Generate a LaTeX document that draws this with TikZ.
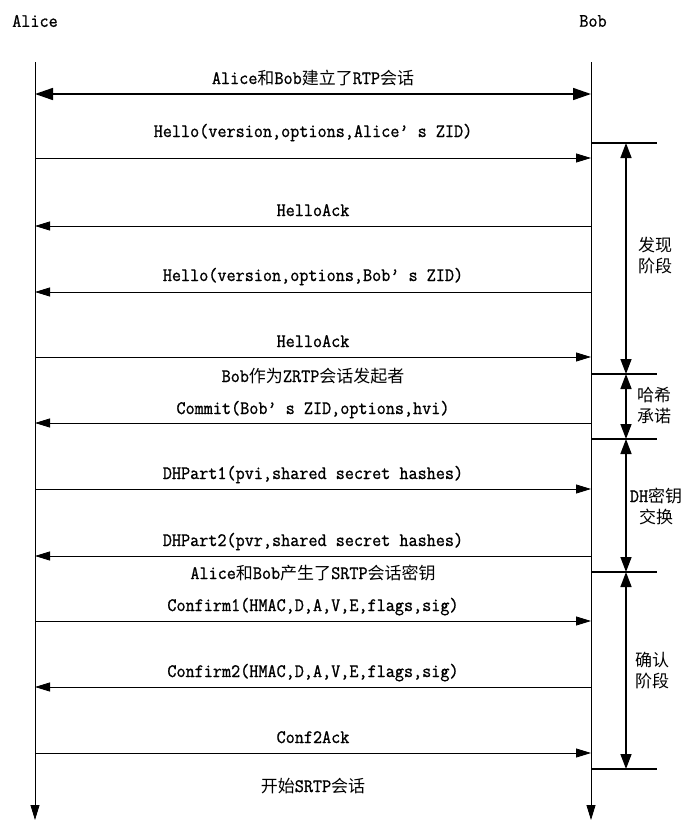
\documentclass[tikz,border=0pt]{standalone}
\usepackage{fontspec}
\setmonofont[FakeStretch=0.93,FakeBold=1]{Latin Modern Mono}
\newfontfamily\cjk{Noto Sans CJK SC}
\usetikzlibrary{arrows.meta}
\newcommand{\lat}{\ttfamily\fontsize{19}{21}\selectfont}
\newcommand{\zh}[1]{{\cjk\fontsize{17}{21}\selectfont #1}}

\begin{document}
\begin{tikzpicture}[
    x=1pt, y=-1pt,
    every node/.style={font=\lat, inner sep=0pt},
    msg/.style={line width=0.8pt, -{Triangle[length=15pt,width=9pt]}},
    both/.style={line width=1.6pt, {Triangle[length=18pt,width=12pt]}-{Triangle[length=18pt,width=12pt]}},
    phase/.style={line width=1.5pt, {Triangle[length=15pt,width=11pt]}-{Triangle[length=15pt,width=11pt]}},
    phaseline/.style={line width=1.5pt},
    side/.style={font=\cjk\fontsize{17}{21}\selectfont, align=center}
  ]
  \useasboundingbox (0,0) rectangle (686,825);

  % the two parties
  \node (alice) at (35,21) {Alice};
  \node (bob) at (593,21) {Bob};
  \coordinate (atop) at (35,62);
  \coordinate (abot) at (35,820);
  \coordinate (btop) at (591,62);
  \coordinate (bbot) at (591,820);
  \draw[msg] (atop) -- (abot);
  \draw[msg] (btop) -- (bbot);

  % RTP session
  \coordinate (A0) at (35,94);
  \coordinate (B0) at (591,94);
  \draw[both] (A0) -- (B0);

  % messages
  \foreach \i/\y/\from/\to in {1/158/A/B, 2/226/B/A, 3/292/B/A, 4/357/A/B,
      5/423/B/A, 6/489/A/B, 7/556/B/A, 8/621/A/B, 9/687/B/A, 10/753/A/B}{
    \coordinate (A\i) at (35,\y);
    \coordinate (B\i) at (591,\y);
    \draw[msg] (\from\i) -- (\to\i);
  }

  % labels
  \node[anchor=base] (rtp) at (313,84) {Alice\zh{和}Bob\zh{建立了}RTP\zh{会话}};
  \node[anchor=base] (hello1) at (313,137) {Hello(version,options,Alice’ s ZID)};
  \node[anchor=base] (ack1) at (313,216) {HelloAck};
  \node[anchor=base] (hello2) at (313,281) {Hello(version,options,Bob’ s ZID)};
  \node[anchor=base] (ack2) at (313,347) {HelloAck};
  \node[anchor=base] (init) at (313,382) {Bob\zh{作为}ZRTP\zh{会话发起者}};
  \node[anchor=base] (commit) at (313,414) {Commit(Bob’ s ZID,options,hvi)};
  \node[anchor=base] (dh1) at (313,479) {DHPart1(pvi,shared secret hashes)};
  \node[anchor=base] (dh2) at (313,546) {DHPart2(pvr,shared secret hashes)};
  \node[anchor=base] (keys) at (313,579) {Alice\zh{和}Bob\zh{产生了}SRTP\zh{会话密钥}};
  \node[anchor=base] (conf1) at (313,611) {Confirm1(HMAC,D,A,V,E,flags,sig)};
  \node[anchor=base] (conf2) at (313,677) {Confirm2(HMAC,D,A,V,E,flags,sig)};
  \node[anchor=base] (c2ack) at (313,743) {Conf2Ack};
  \node[anchor=base] (srtp) at (313,792) {\zh{开始}SRTP\zh{会话}};

  % phases
  \foreach \n/\y in {0/143, 1/374, 2/439, 3/572, 4/769}{
    \coordinate (p\n) at (591,\y);
    \coordinate (e\n) at (657,\y);
    \coordinate (q\n) at (626,\y);
    \draw[phaseline] (p\n) -- (e\n);
  }
  \foreach \a/\b in {0/1, 1/2, 2/3, 3/4}
    \draw[phase] (q\a) -- (q\b);

  \node[side] (discover) at (655,256) {发现\\阶段};
  \node[side] (commitph) at (654,406) {哈希\\承诺};
  \node[side] (dhph) at (656,506) {{\ttfamily\fontsize{19}{21}\selectfont DH}密钥\\交换};
  \node[side] (confirmph) at (652,671) {确认\\阶段};
\end{tikzpicture}
\end{document}
